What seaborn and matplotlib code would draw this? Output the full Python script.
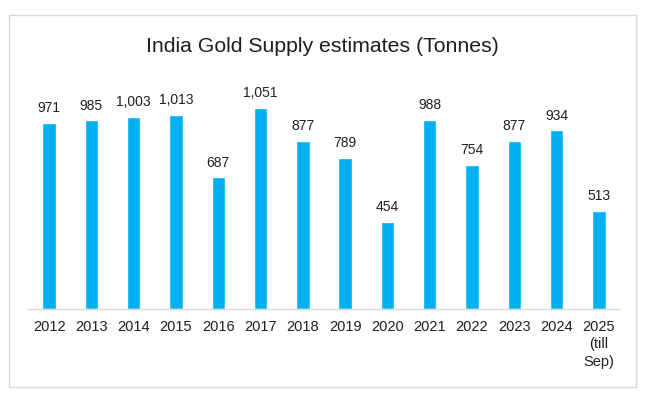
import matplotlib
matplotlib.use("Agg")
import matplotlib.pyplot as plt
import seaborn as sns
import pandas as pd
from matplotlib.patches import Rectangle

years = ["2012", "2013", "2014", "2015", "2016", "2017", "2018", "2019",
         "2020", "2021", "2022", "2023", "2024", "2025\n(till\nSep)"]
supply = [971, 985, 1003, 1013, 687, 1051, 877, 789, 454, 988, 754, 877, 934, 513]
title = "India Gold Supply estimates (Tonnes)"

df = pd.DataFrame({"year": years, "supply": supply})

sns.set_theme(style="white")
plt.rcParams["font.family"] = ["Liberation Sans", "DejaVu Sans"]

fig = plt.figure(figsize=(6.51, 3.93), dpi=100)
fig.patch.set_facecolor("white")
fig.patches.append(Rectangle((9 / 651, 1 - 387 / 393), 627 / 651, 372 / 393,
                             transform=fig.transFigure, fill=False,
                             edgecolor="#d9d9d9", linewidth=1.0))

ax = fig.add_axes([28 / 651, 1 - 309 / 393, 592 / 651, 219 / 393])
sns.barplot(data=df, x="year", y="supply", color="#00B0F0", width=0.32,
            saturation=1, ax=ax)
ax.set_ylim(0, 219 / 0.1915)
ax.set_xlim(-0.5, len(years) - 0.5)
ax.set_xlabel("")
ax.set_ylabel("")
ax.set_yticks([])
for s in ["top", "right", "left"]:
    ax.spines[s].set_visible(False)
ax.spines["bottom"].set_color("#d9d9d9")
ax.spines["bottom"].set_linewidth(1.0)
ax.tick_params(axis="x", length=0, pad=8, labelsize=10.5, colors="#1f1f1f")
for lab in ax.get_xticklabels():
    lab.set_verticalalignment("top")
    lab.set_linespacing(1.3)

for i, v in enumerate(supply):
    ax.annotate(f"{v:,}", (i, v), xytext=(0, 5.5), textcoords="offset points",
                ha="center", va="bottom", fontsize=10, color="#1f1f1f")

fig.text(322 / 651, 1 - 46 / 393, title, ha="center", va="center",
         fontsize=15.3, color="#1f1f1f")

fig.savefig("out.png", dpi=100)
